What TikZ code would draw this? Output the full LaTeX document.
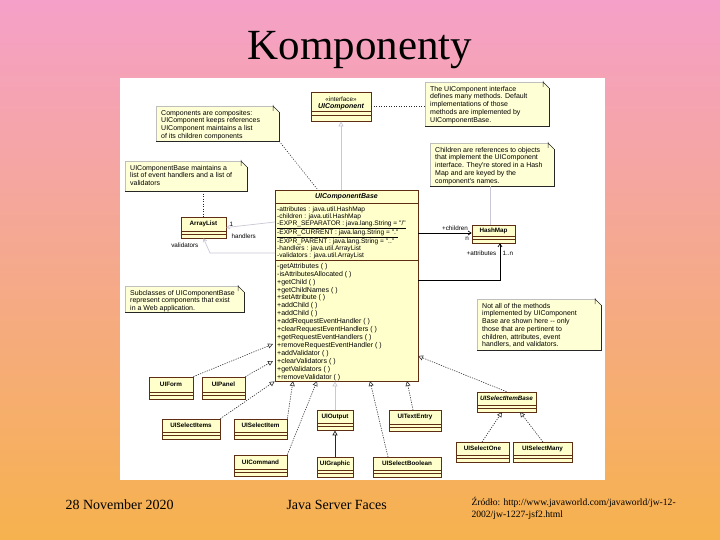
\documentclass[tikz,border=0pt]{standalone}
\usepackage{fontspec}
\setmainfont{Liberation Serif}
\newfontfamily\umlfont{Liberation Sans}
\usetikzlibrary{arrows.meta,fit,calc}
\definecolor{bgtop}{RGB}{245,160,200}
\definecolor{bgbot}{RGB}{246,178,78}
\definecolor{clsfill}{RGB}{255,255,204}
\definecolor{clsdraw}{RGB}{95,45,20}
\definecolor{notefill}{RGB}{255,255,214}
\definecolor{lightln}{RGB}{200,200,215}
\tikzset{
  clsbox/.style={draw=clsdraw, fill=clsfill, line width=0.7pt, inner sep=0pt},
  clsline/.style={draw=clsdraw, line width=0.6pt},
  clstxt/.style={font=\umlfont\bfseries\fontsize{6.3}{7}\selectfont, inner sep=0pt},
  membtxt/.style={font=\umlfont\fontsize{6.6}{6.85}\selectfont, inner sep=0pt, align=left, anchor=north west},
  notetxt/.style={font=\umlfont\fontsize{7}{7.7}\selectfont, inner sep=0pt, align=left, anchor=north west},
  notelight/.style={draw=black!25, line width=0.5pt},
  notedark/.style={draw=black!85, line width=0.7pt},
  lbl/.style={font=\umlfont\fontsize{6.3}{7}\selectfont, inner sep=0.5pt},
  realize/.style={draw=black!80, line width=0.6pt, dash pattern=on 1.2pt off 1.2pt,
    -{Triangle[open,length=5pt,width=5pt]}},
  inherit/.style={line width=0.7pt, -{Triangle[open,length=5pt,width=5pt]}},
  assoc/.style={line width=0.7pt, -{Straight Barb[length=3pt,width=4pt]}},
  anchorln/.style={draw=black!85, line width=0.6pt, dash pattern=on 1pt off 1.5pt},
}
\newcommand{\umlcls}[6]{%
  \node[clsbox, fit={(#2,#3)(#4,#5)}] (#1) {};
  \node[clstxt] (#1-t) at ({(#2+#4)/2},{(#3+#5-7)/2}) {#6};
  \draw[clsline] (#2,{#5-7}) -- (#4,{#5-7}) (#2,{#5-3.5}) -- (#4,{#5-3.5});
}
\newcommand{\umlnote}[6]{%
  \fill[notefill] (#2,#3) -- ({#4-6},#3) -- (#4,{#3+6}) -- (#4,#5) -- (#2,#5) -- cycle;
  \node[fit={(#2,#3)(#4,#5)}, inner sep=0pt] (#1) {};
  \draw[notelight] (#2,#5) -- (#2,#3) -- ({#4-6},#3);
  \draw[notedark] (#2,#5) -- (#4,#5) -- (#4,{#3+6});
  \draw[draw=black!85, line width=0.5pt] ({#4-6},{#3-1}) -- ({#4-6},{#3+5}) ({#4-6},#3) -- (#4,{#3+6});
  \node[notetxt] (#1-t) at ({#2+5},{#3+4}) {#6};
}
\begin{document}
\begin{tikzpicture}[x=1pt,y=-1pt]
\useasboundingbox (0,0) rectangle (720,540);
\shade[top color=bgtop, bottom color=bgbot] (0,0) rectangle (720,540);
\fill[white] (120,78) rectangle (605,480);

\node[anchor=base, font=\fontsize{43}{50}\selectfont] (title) at (360,60) {Komponenty};

% notes
\umlnote{n1}{156}{106}{279}{141}{Components are composites:\\UIComponent keeps references\\UIComponent maintains a list\\of its children components}
\umlnote{n2}{125}{161}{247}{191}{UIComponentBase maintains a\\list of event handlers and a list of\\validators}
\umlnote{n3}{425}{82}{549}{126}{The UIComponent interface\\defines many methods. Default\\implementations of those\\methods are implemented by\\UIComponentBase.}
\umlnote{n4}{430}{143}{554}{186}{Children are references to objects\\that implement the UIComponent\\interface. They're stored in a Hash\\Map and are keyed by the\\component's names.}
\umlnote{n5}{125}{286}{244}{312}{Subclasses of UIComponentBase\\represent components that exist\\in a Web application.}
\umlnote{n6}{477}{299}{601}{350}{Not all of the methods\\implemented by UIComponent\\Base are shown here -- only\\those that are pertinent to\\children, attributes, event\\handlers, and validators.}

% interface
\node[clsbox, fit={(311,92)(371,121)}] (uic) {};
\node[lbl] (uic-s) at (341,99) {«interface»};
\node[clstxt, font=\umlfont\bfseries\itshape\fontsize{7}{7}\selectfont] (uic-t) at (341,106.5) {UIComponent};
\draw[clsline] (311,111) -- (371,111) (311,115.5) -- (371,115.5);

% UIComponentBase
\node[clsbox, fit={(275,190)(418,381)}] (ucb) {};
\node[clstxt, font=\umlfont\bfseries\itshape\fontsize{7}{7}\selectfont] (ucb-t) at (346.5,196.5) {UIComponentBase};
\draw[clsline] (275,203) -- (418,203) (275,260) -- (418,260);
\node[membtxt] (ucb-a) at (277,207) {-attributes : java.util.HashMap\\
-children : java.util.HashMap\\
\underline{-EXPR\_SEPARATOR : java.lang.String = "/"}\\
\underline{-EXPR\_CURRENT : java.lang.String = "."}\\
-EXPR\_PARENT : java.lang.String = ".."\\
-handlers : java.util.ArrayList\\
-validators : java.util.ArrayList};
\node[membtxt, font=\umlfont\fontsize{7}{7.93}\selectfont] (ucb-m) at (277,263) {-getAttributes ( )\\
-isAttributesAllocated ( )\\
+getChild ( )\\
+getChildNames ( )\\
+setAttribute ( )\\
+addChild ( )\\
+addChild ( )\\
+addRequestEventHandler ( )\\
+clearRequestEventHandlers ( )\\
+getRequestEventHandlers ( )\\
+removeRequestEventHandler ( )\\
+addValidator ( )\\
+clearValidators ( )\\
+getValidators ( )\\
+removeValidator ( )};

% classes
\umlcls{al}{181}{217}{226}{238}{ArrayList}
\umlcls{hm}{472}{225}{515}{243}{HashMap}
\umlcls{uiform}{149}{377}{193}{399}{UIForm}
\umlcls{uipanel}{202}{377}{245}{399}{UIPanel}
\umlcls{uisitems}{162}{419}{220}{439}{UISelectItems}
\umlcls{uisitem}{234}{419}{287}{439}{UISelectItem}
\umlcls{uicmd}{234}{455}{287}{476}{UICommand}
\umlcls{uiout}{317}{410}{353}{430}{UIOutput}
\umlcls{uigr}{317}{457}{353}{477}{UIGraphic}
\umlcls{uite}{389}{410}{441}{431}{UITextEntry}
\umlcls{uisb}{373}{457}{441}{477}{UISelectBoolean}
\umlcls{uisib}{477}{392}{536}{412}{\itshape UISelectItemBase}
\umlcls{uisone}{456}{442}{509}{462}{UISelectOne}
\umlcls{uismany}{513}{442}{572}{462}{UISelectMany}

% note anchors
\draw[anchorln] (uic.east) -- (n3.west |- uic.east);
\draw[anchorln] (n1.south east) -- ($(ucb.north west)+(43,0)$);
\draw[anchorln] (n2.south -| al.north) -- (al.north);
\draw[draw=lightln, line width=0.6pt] (n4.south -| 490,0) -- (hm.north -| 490,0);

% interface realization
\draw[inherit, draw=lightln] (ucb.north -| uic.south) -- (uic.south);

% associations
\coordinate (hnd) at (275,222);
\draw[assoc, draw=lightln] (hnd) -- (al.east);
\node[lbl, anchor=west] (hnd-m) at (229,224) {1};
\node[lbl, anchor=west] (hnd-r) at (231,236.5) {handlers};
\coordinate (vl1) at (275,253);
\coordinate (vl2) at (210,253);
\draw[assoc, draw=lightln] (vl1) -- (vl2) -- (al.south);
\node[lbl, anchor=east] (vl-r) at (199,245) {validators};

\coordinate (ch) at (418,233);
\draw[assoc] (ch) -- (hm.west |- ch);
\node[lbl] (ch-r) at (455,228) {+children};
\node[lbl] (ch-m) at (467,238.5) {n};
\coordinate (at1) at (418,280);
\coordinate (at2) at (500,280);
\draw[assoc] (at1) -- (at2) -- (hm.south -| at2);
\node[lbl, anchor=east] (at-r) at (497,253) {+attributes};
\node[lbl, anchor=west] (at-m) at (502,253) {1..n};

% generalizations
\draw[realize] (uiform.north east) -- (273,344);
\draw[realize] (uipanel.north east) -- (273,361);
\draw[realize] (uisitems.north east) -- (ucb.south west);
\draw[realize] (uisitem.north east) -- (293,381);
\draw[realize] (uicmd.north east) -- (317,381);
\draw[inherit, draw=lightln] (uiout.north) -- (uiout.north |- ucb.south);
\draw[inherit, draw=black!85] (uigr.north) -- (uiout.south);
\draw[realize] (388,457) -- (370,381);
\draw[realize] (413,410) -- (407,381);
\draw[realize] (uisib.north) -- (418,356);
\draw[realize] (482,442) -- (502,412);
\draw[realize] (543,442) -- (520,412);

% footer
\node[anchor=base west, font=\fontsize{14}{16}\selectfont] (date) at (62,509) {28 November 2020};
\node[anchor=base west, font=\fontsize{14}{16}\selectfont] (conf) at (283,509) {Java Server Faces};
\node[anchor=base west, font=\fontsize{9.6}{11}\selectfont] (src1) at (468,505) {Źródło: http://www.javaworld.com/javaworld/jw-12-};
\node[anchor=base west, font=\fontsize{9.6}{11}\selectfont] (src2) at (468,517) {2002/jw-1227-jsf2.html};
\end{tikzpicture}
\end{document}
